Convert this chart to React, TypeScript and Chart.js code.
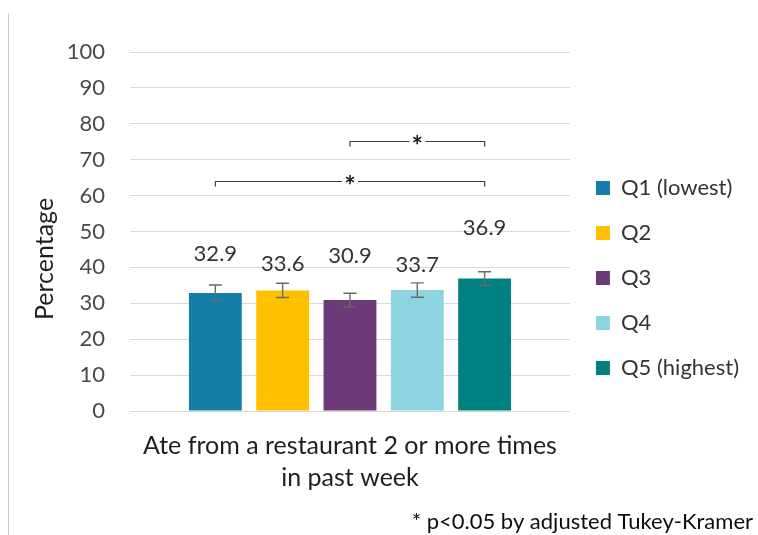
import React, { useEffect, useRef } from "react";
import { Chart, registerables } from "chart.js";

Chart.register(...registerables);

// ---------- data ----------
const CATEGORIES = [["Ate from a restaurant 2 or more times", "in past week"]];
const SERIES = ["Q1 (lowest)", "Q2", "Q3", "Q4", "Q5 (highest)"];
const VALUES = [32.9, 33.6, 30.9, 33.7, 36.9];
const ERRORS = [2.2, 2.0, 1.9, 2.0, 1.9];
const Y_MIN = 0;
const Y_MAX = 100;
const Y_STEP = 10;
const SIG_PAIRS = [
  [0, 4],
  [2, 4],
];
const SIG_MARK = "*";
const Y_TITLE = "Percentage";
const FOOTNOTE = "* p<0.05 by adjusted Tukey-Kramer";

// ---------- styles ----------
const COLORS = ["#137FA9", "#FFC000", "#6B3A77", "#8CD4DF", "#008080"];
const LABEL_GAPS = [32, 20, 38, 19, 45]; // px between error-bar top and label centre
const BRACKET_LEVELS = [64.2, 75.1]; // value level of each bracket
const FONT = "Lato";

const overlay = {
  id: "overlay",
  afterLayout(chart: any) {
    const lg = chart.legend;
    if (lg) {
      lg.left += 3;
      lg.right += 3;
      lg.top += 5;
      lg.bottom += 5;
    }
  },
  beforeDraw(chart: any) {
    const ctx = chart.ctx;
    ctx.save();
    ctx.strokeStyle = "#c9c9c9";
    ctx.lineWidth = 1;
    ctx.beginPath();
    ctx.moveTo(8.5, 13);
    ctx.lineTo(8.5, chart.height);
    ctx.stroke();
    ctx.restore();
  },
  afterDatasetsDraw(chart: any) {
    const ctx = chart.ctx;
    const ys = chart.scales.y;
    const centers: number[] = [];
    ctx.save();
    chart.data.datasets.forEach((ds: any, i: number) => {
      const bar = chart.getDatasetMeta(i).data[0];
      const v = ds.data[0];
      const e = ERRORS[i];
      const x = bar.x;
      centers.push(x);
      const yt = ys.getPixelForValue(v + e);
      const yb = ys.getPixelForValue(v - e);
      ctx.strokeStyle = "#6a6a6a";
      ctx.lineWidth = 1.4;
      ctx.beginPath();
      ctx.moveTo(x, yt);
      ctx.lineTo(x, yb);
      ctx.moveTo(x - 6.5, yt);
      ctx.lineTo(x + 6.5, yt);
      ctx.moveTo(x - 6.5, yb);
      ctx.lineTo(x + 6.5, yb);
      ctx.stroke();
      // value label
      ctx.fillStyle = "#333333";
      ctx.font = `22px ${FONT}`;
      ctx.textAlign = "center";
      ctx.textBaseline = "alphabetic";
      ctx.fillText(v.toFixed(1), x, yt - LABEL_GAPS[i] + 0.36 * 22);
    });
    // significance brackets
    SIG_PAIRS.forEach(([a, b], k) => {
      const x1 = centers[a];
      const x2 = centers[b];
      const yl = Math.round(ys.getPixelForValue(BRACKET_LEVELS[k])) + 0.5;
      const mid = (x1 + x2) / 2;
      ctx.strokeStyle = "#404040";
      ctx.lineWidth = 1.2;
      ctx.beginPath();
      ctx.moveTo(x1, yl + 5);
      ctx.lineTo(x1, yl);
      ctx.lineTo(mid - 8, yl);
      ctx.moveTo(mid + 8, yl);
      ctx.lineTo(x2, yl);
      ctx.lineTo(x2, yl + 5);
      ctx.stroke();
      ctx.fillStyle = "#1a1a1a";
      ctx.font = `bold 27px ${FONT}`;
      ctx.textAlign = "center";
      ctx.textBaseline = "alphabetic";
      ctx.fillText(SIG_MARK, mid, yl + 13);
    });
    ctx.restore();
  },
  afterDraw(chart: any) {
    const ctx = chart.ctx;
    ctx.save();
    // y-axis title
    ctx.translate(53, 259);
    ctx.rotate(-Math.PI / 2);
    ctx.fillStyle = "#1f1f1f";
    ctx.font = `25px ${FONT}`;
    ctx.textAlign = "center";
    ctx.textBaseline = "alphabetic";
    ctx.fillText(Y_TITLE, 0, 0);
    ctx.restore();
    // footnote
    ctx.save();
    ctx.fillStyle = "#0d0d0d";
    ctx.font = `22px ${FONT}`;
    ctx.textAlign = "right";
    ctx.textBaseline = "alphabetic";
    ctx.fillText(FOOTNOTE, chart.width - 5, 529);
    ctx.restore();
  },
};

export default function App() {
  const ref = useRef<HTMLCanvasElement | null>(null);
  useEffect(() => {
    if (!ref.current) return;
    Chart.defaults.font.family = FONT;
    const chart = new Chart(ref.current, {
      type: "bar",
      data: {
        labels: CATEGORIES,
        datasets: SERIES.map((name, i) => ({
          label: name,
          data: [VALUES[i]],
          backgroundColor: COLORS[i],
          borderWidth: 0,
          categoryPercentage: 0.765,
          barPercentage: 0.785,
        })),
      },
      options: {
        responsive: false,
        maintainAspectRatio: false,
        animation: false,
        layout: { padding: { top: 52, right: 12, bottom: 41, left: 0 } },
        plugins: {
          tooltip: { enabled: false },
          legend: {
            position: "right",
            labels: {
              boxWidth: 14,
              boxHeight: 14,
              padding: 23,
              color: "#333333",
              font: { size: 22, family: FONT },
            },
          },
        },
        scales: {
          x: {
            grid: { display: false, drawTicks: false },
            border: { display: false },
            ticks: {
              color: "#1f1f1f",
              padding: 18.5,
              font: { size: 25, family: FONT, lineHeight: 1.28 },
              maxRotation: 0,
            },
            afterFit: (s: any) => {
              s.height = 83;
            },
          },
          y: {
            min: Y_MIN,
            max: Y_MAX,
            grid: { color: "#d9d9d9", lineWidth: 1, drawTicks: false },
            border: { display: false },
            ticks: {
              stepSize: Y_STEP,
              color: "#4a4a4a",
              padding: 25,
              font: { size: 22, family: FONT },
            },
            afterFit: (s: any) => {
              s.width = 130;
            },
          },
        },
      },
      plugins: [overlay],
    });
    return () => chart.destroy();
  }, []);
  return (
    <div style={{ position: "absolute", left: 0, top: 0, width: 758, height: 535, background: "#fff" }}>
      <canvas ref={ref} width={758} height={535} style={{ display: "block" }} />
    </div>
  );
}
